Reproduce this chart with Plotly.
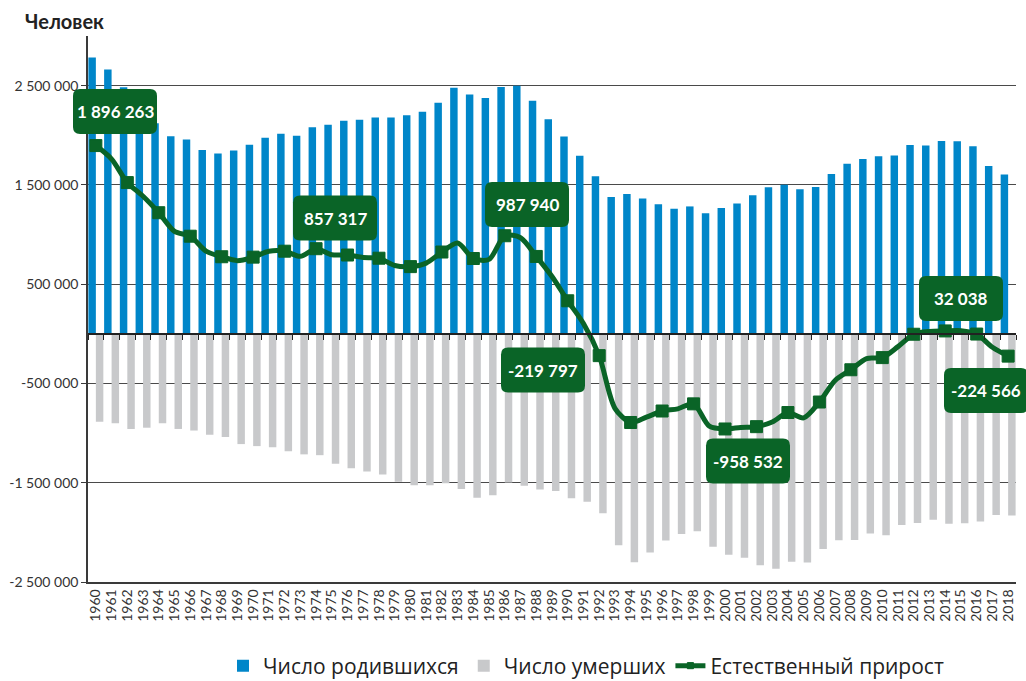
import plotly.graph_objects as go

years = list(range(1960, 2019))

births = [2782353, 2662135, 2482539, 2331505, 2120840, 1990520, 1957763, 1851041, 1816509, 1847592,
          1903713, 1974637, 2014638, 1994621, 2079812, 2106147, 2146711, 2156724, 2179030, 2178542,
          2202779, 2236608, 2328044, 2478322, 2409614, 2375147, 2485915, 2499974, 2348494, 2160559,
          1988858, 1794626, 1587644, 1378983, 1408159, 1363806, 1304638, 1259943, 1283292, 1214689,
          1266800, 1311604, 1396967, 1477301, 1502477, 1457376, 1479637, 1610122, 1713947, 1761687,
          1788948, 1796629, 1902084, 1895822, 1942683, 1940579, 1888729, 1690307, 1604344]

deaths = [-886090, -901644, -959098, -945775, -900929, -958317, -974299, -1017034, -1040096, -1110798,
          -1131183, -1143359, -1182384, -1214219, -1222495, -1309710, -1352950, -1387986, -1417377, -1490057,
          -1525755, -1524286, -1504200, -1563995, -1650866, -1625266, -1497975, -1531585, -1569112, -1583743,
          -1655993, -1690657, -1807441, -2129339, -2301366, -2203811, -2082249, -2015779, -1988744, -2144316,
          -2225332, -2254856, -2332272, -2365826, -2295402, -2303935, -2166703, -2080445, -2075954, -2010543,
          -2028516, -1925720, -1906335, -1871809, -1913613, -1908541, -1891015, -1826125, -1828910]

natural = [1896263, 1760491, 1523441, 1385730, 1219911, 1032203, 983464, 834007, 776413, 736794,
           772530, 831278, 832254, 780402, 857317, 796437, 793761, 768738, 761653, 688485,
           677024, 712322, 823844, 914327, 758748, 749881, 987940, 968389, 779382, 576816,
           332865, 103969, -219797, -750356, -893207, -840005, -777611, -755836, -705452, -929627,
           -958532, -943252, -935305, -888525, -792925, -846559, -687066, -470323, -362007, -248856,
           -239568, -129091, -4251, 24013, 29070, 32038, -2286, -135818, -224566]

label_texts = ["1 896 263", "857 317", "987 940", "-219 797", "-958 532", "32 038", "-224 566"]

ytick_vals = [2500000, 1500000, 500000, -500000, -1500000, -2500000]
ytick_text = ["2 500 000", "1 500 000", "500 000", "-500 000", "-1 500 000", "-2 500 000"]

series_names = ["Число родившихся", "Число умерших", "Естественный прирост"]

BLUE = "#0086c9"
GRAY = "#c8c9cb"
GREEN = "#0a6427"
AXIS = "#3a3a3a"

fig = go.Figure()
fig.add_trace(go.Bar(x=years, y=births, name=series_names[0], marker=dict(color=BLUE, line=dict(width=0))))
fig.add_trace(go.Bar(x=years, y=deaths, name=series_names[1], marker=dict(color=GRAY, line=dict(width=0))))
fig.add_trace(go.Scatter(
    x=years, y=natural, name=series_names[2], mode="lines+markers",
    line=dict(color=GREEN, width=5, shape="spline", smoothing=0.8),
    marker=dict(symbol="square", color=GREEN, opacity=1, line=dict(color=GREEN, width=1),
                size=[12 if (y % 2 == 0) else 0 for y in years]),
))
# dummy trace to activate the zero axis with tick marks
fig.add_trace(go.Scatter(x=[years[0]], y=[0], xaxis="x2", yaxis="y", mode="markers",
                         marker=dict(opacity=0), showlegend=False, hoverinfo="skip"))

# plot area in pixels
PL, PR, PT, PB = 88, 1016, 36, 582
W, H = PR - PL, PB - PT
ymin, ymax = -2500000, 3000000

label_pos = [(115, 111.5), (335, 218), (527, 204.5), (543, 370), (748, 461), (961, 298.5), (986, 390.5)]
bw, bh, r = 84, 45, 7
hw, hh = bw / 2, bh / 2
path = (f"M {-hw + r},{-hh} L {hw - r},{-hh} Q {hw},{-hh} {hw},{-hh + r} "
        f"L {hw},{hh - r} Q {hw},{hh} {hw - r},{hh} L {-hw + r},{hh} Q {-hw},{hh} {-hw},{hh - r} "
        f"L {-hw},{-hh + r} Q {-hw},{-hh} {-hw + r},{-hh} Z")

shapes = []
annotations = []
for txt, (px, py) in zip(label_texts, label_pos):
    xp = (px - PL) / W
    yp = (PB - py) / H
    shapes.append(dict(type="path", xref="paper", yref="paper", xsizemode="pixel", ysizemode="pixel",
                       xanchor=xp, yanchor=yp, path=path, fillcolor=GREEN, line=dict(width=0), layer="above"))
    annotations.append(dict(x=xp, y=yp, xref="paper", yref="paper", text=f"<b>{txt}</b>", showarrow=False,
                            font=dict(family="Lato, Open Sans, sans-serif", size=17, color="white"),
                            xanchor="center", yanchor="middle"))

annotations.append(dict(x=(23 - PL) / W, y=(PB - 21) / H, xref="paper", yref="paper", text="<b>Человек</b>",
                        showarrow=False, xanchor="left", yanchor="middle",
                        font=dict(family="Lato, Open Sans, sans-serif", size=20, color="#222222")))

zero_pos = (0 - ymin) / (ymax - ymin)

fig.update_layout(
    width=1026, height=681,
    margin=dict(l=PL, r=1026 - PR, t=PT, b=681 - PB, autoexpand=False),
    paper_bgcolor="white", plot_bgcolor="white",
    barmode="group", bargap=0.05, bargroupgap=0,
    font=dict(family="Lato, Open Sans, sans-serif", color="#333333"),
    xaxis=dict(range=[1959.5, 2018.5], tickvals=years, ticktext=[str(y) for y in years],
               tickangle=-90, tickfont=dict(size=14, color="#333333"), showgrid=False,
               showline=True, linecolor=AXIS, linewidth=1.5, ticks="", zeroline=False),
    xaxis2=dict(range=[1959.5, 2018.5], overlaying="x", anchor="free", position=zero_pos,
                tickvals=[y - 0.5 for y in years] + [2018.5], showticklabels=False, ticks="outside",
                ticklen=5, tickcolor="#222222", showline=True, linecolor="#222222", linewidth=1.5,
                showgrid=False, zeroline=False),
    yaxis=dict(range=[ymin, ymax], tickvals=ytick_vals, ticktext=ytick_text,
               tickfont=dict(size=14, color="#333333"), showgrid=True, gridcolor="#4a4a4a", gridwidth=1.2,
               showline=True, linecolor=AXIS, linewidth=1.5, ticks="outside", ticklen=5, tickcolor=AXIS,
               zeroline=False),
    legend=dict(orientation="h", x=(586 - PL) / W, xanchor="center", y=(PB - 666) / H, yanchor="middle",
                font=dict(family="Open Sans, sans-serif", size=21, color="#222222"),
                traceorder="normal", itemwidth=30),
    shapes=shapes,
    annotations=annotations,
    showlegend=True,
)

fig.write_html("out.html")
